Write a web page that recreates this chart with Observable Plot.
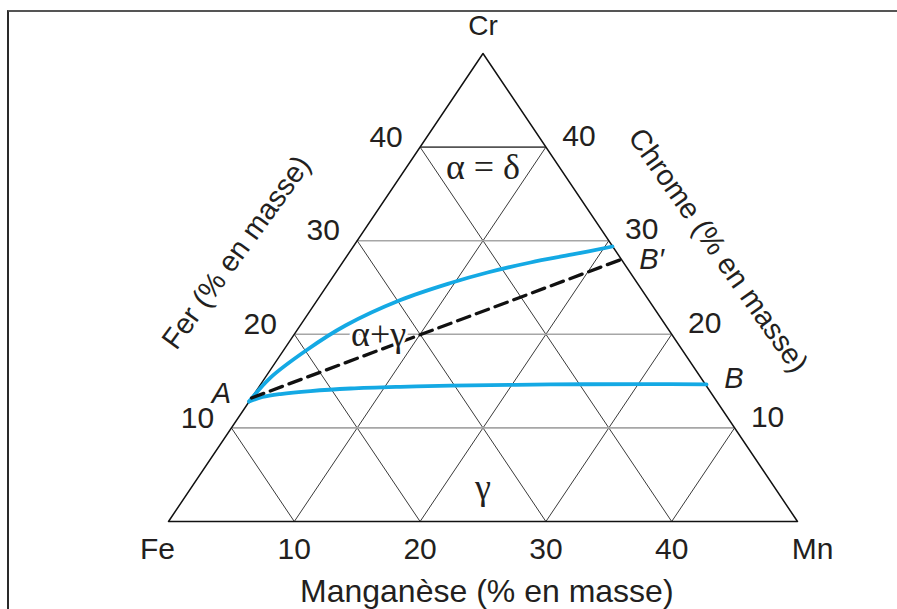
<!DOCTYPE html>
<html><head><meta charset="utf-8">
<script src="https://cdn.jsdelivr.net/npm/d3@7"></script>
<script src="https://cdn.jsdelivr.net/npm/@observablehq/plot@0.6"></script>
<style>
body{margin:0;background:#fff;overflow:hidden}
#wrap{position:relative;width:897px;height:609px;overflow:hidden}
#frame{position:absolute;left:7px;top:10px;width:900px;height:610px;border-left:2px solid #2a2a2a;border-top:2px solid #555;}
#chart{position:absolute;left:0;top:0}
</style></head><body>
<div id="wrap"><div id="chart"></div><div id="frame"></div></div>
<script>
// ---- data (composition in % mass: Mn, Cr) ----
const gridTicks = [10, 20, 30, 40];
const tickLabels = ["10", "20", "30", "40"];
const vertexNames = ["Fe", "Mn", "Cr"];
const vertexMn = [0, 50, 0];
const vertexCr = [0, 0, 50];

// upper boundary A -> B'
const upperMn = [0, 0.42, 1.86, 3.6, 6.61, 9.68, 12.06, 14.94, 17.85, 20.6];
const upperCr = [12.82, 15.38, 18.38, 20.94, 23.66, 25.48, 26.6, 27.67, 28.53, 29.38];
// lower boundary A -> B
const lowerMn = [0, 0.82, 2.09, 4.32, 7.37, 11.24, 15.17, 23.05, 30.97, 35.45];
const lowerCr = [12.82, 13.3, 13.62, 13.94, 14.21, 14.39, 14.51, 14.64, 14.68, 14.64];
// dashed line A -> B'
const dashMn = [0, 22];
const dashCr = [13.2, 28];

// phase / point labels
const phaseLabels = ["α = δ", "α+γ", "γ"];
const phaseMn = [6.1, 6.7, 23.2];
const phaseCr = [37.8, 20.0, 3.6];
const pointLabels = ["A", "B′", "B"];
const pointMn = [-2.65, 24.4, 37.3];
const pointCr = [13.7, 28.0, 15.3];

const axisTitles = ["Fer (% en masse)", "Chrome (% en masse)"];
const axisTitleMn = [-8.97, 29.2];
const axisTitleCr = [28.74, 28.95];
const axisTitleRotate = [-54, 55];
const bottomTitle = "Manganèse (% en masse)";

// ---- helpers ----
const proj = d => d.Mn + d.Cr / 2;   // ternary projection (x)
const zip = (mn, cr, extra = {}) => mn.map((m, i) => ({Mn: m, Cr: cr[i], i, ...Object.fromEntries(Object.entries(extra).map(([k, v]) => [k, v[i]]))}));

const vertices = zip(vertexMn, vertexCr, {name: vertexNames});
const outline = [...vertices, vertices[0]];
const upper = zip(upperMn, upperCr);
const lower = zip(lowerMn, lowerCr);
const dashed = zip(dashMn, dashCr);
const phases = zip(phaseMn, phaseCr, {t: phaseLabels});
const points = zip(pointMn, pointCr, {t: pointLabels});
const titles = zip(axisTitleMn, axisTitleCr, {t: axisTitles, r: axisTitleRotate});
const ticks = gridTicks.map((c, i) => ({c, label: tickLabels[i]}));

const sans = "'Liberation Sans', Arial, Helvetica, sans-serif";
const serif = "'Liberation Serif', 'Times New Roman', serif";
const ink = "#231f20";
const blue = "#14a9e4";

const plot = Plot.plot({
  width: 897,
  height: 609,
  marginLeft: 168,
  marginRight: 100,
  marginTop: 53,
  marginBottom: 88,
  x: {domain: [0, 50], axis: null},
  y: {domain: [0, 50], axis: null},
  style: {background: "transparent", overflow: "visible"},
  marks: [
    // lines Mn = const (parallel to left edge)
    Plot.link(ticks, {x1: d => d.c, y1: 0, x2: d => 25 + d.c / 2, y2: d => 50 - d.c, stroke: "#3a3a3a", strokeWidth: 1}),
    // lines Mn + Cr = const (parallel to right edge)
    Plot.link(ticks, {x1: d => d.c / 2, y1: d => d.c, x2: d => d.c, y2: 0, stroke: "#3a3a3a", strokeWidth: 1}),
    // lines Cr = const
    Plot.link(ticks, {x1: d => d.c / 2, y1: d => d.c, x2: d => 50 - d.c / 2, y2: d => d.c,
      stroke: d => d.c === 40 ? "#555" : "#a6a6a6", strokeWidth: 1.6}),
    // triangle outline
    Plot.line(outline, {x: proj, y: "Cr", stroke: "#111", strokeWidth: 1.5}),
    // boundaries
    Plot.line(upper, {x: proj, y: "Cr", stroke: blue, strokeWidth: 3.8, curve: "catmull-rom"}),
    Plot.line(lower, {x: proj, y: "Cr", stroke: blue, strokeWidth: 3.8, curve: "catmull-rom"}),
    Plot.line(dashed, {x: proj, y: "Cr", stroke: "#111", strokeWidth: 3.3, strokeDasharray: "13,7"}),
    // vertex names
    Plot.text(vertices.filter(d => d.name === "Fe"), {x: proj, y: "Cr", text: "name", dy: 28, dx: -11,
      fontSize: 30, fontFamily: sans, fill: ink}),
    Plot.text(vertices.filter(d => d.name === "Mn"), {x: proj, y: "Cr", text: "name", dy: 28, dx: 15,
      fontSize: 30, fontFamily: sans, fill: ink}),
    Plot.text(vertices.filter(d => d.name === "Cr"), {x: proj, y: "Cr", text: "name", dy: -27,
      fontSize: 28, fontFamily: sans, fill: ink}),
    // bottom tick labels
    Plot.text(ticks, {x: d => d.c, y: 0, text: "label", dy: 28, fontSize: 30, fontFamily: sans, fill: ink}),
    // left tick labels
    Plot.text(ticks, {x: d => d.c / 2, y: d => d.c, text: "label", dx: -34, dy: -10, fontSize: 30, fontFamily: sans, fill: ink}),
    // right tick labels
    Plot.text(ticks, {x: d => 50 - d.c / 2, y: d => d.c, text: "label", dx: 33, dy: -11, fontSize: 30, fontFamily: sans, fill: ink}),
    // bottom axis title
    Plot.text([bottomTitle], {x: 25.3, y: 0, text: d => d, dy: 70, fontSize: 32, fontFamily: sans, fill: ink}),
    // rotated axis titles
    Plot.text(titles, {x: proj, y: "Cr", text: "t", rotate: "r", fontSize: 29, fontFamily: sans, fill: ink}),
    // phase labels
    Plot.text(phases, {x: proj, y: "Cr", text: "t", fontSize: 36, fontFamily: serif, fill: ink, stroke: "white", strokeWidth: 6}),
    // point labels
    Plot.text(points, {x: proj, y: "Cr", text: "t", fontSize: 29, fontFamily: sans, fontStyle: "italic", fill: ink})
  ]
});
document.getElementById("chart").appendChild(plot);
</script>
</body></html>
